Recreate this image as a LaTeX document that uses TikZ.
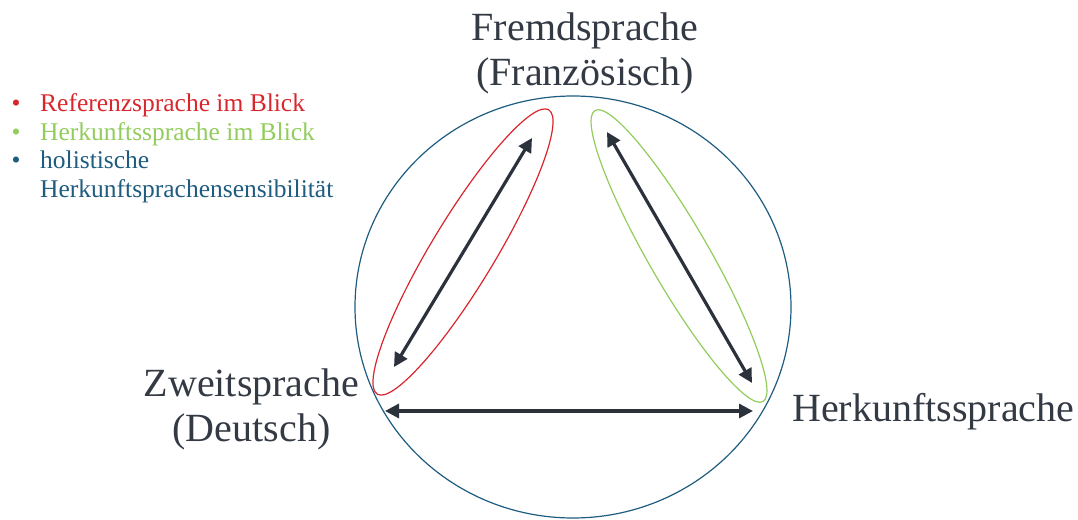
\documentclass[tikz,border=0pt]{standalone}
\usepackage{fontspec}
\setmainfont{Liberation Serif}
\usetikzlibrary{arrows.meta,positioning}
\definecolor{ringblue}{RGB}{30,92,128}
\definecolor{refred}{RGB}{216,38,44}
\definecolor{herkgreen}{RGB}{146,204,92}
\definecolor{arrowgrey}{RGB}{44,50,60}
\definecolor{labelgrey}{RGB}{52,58,68}
\begin{document}
\begin{tikzpicture}[
    x = 1pt, y = 1pt,
    lang/.style = {inner sep = 0pt, text = labelgrey, align = center, font = \fontsize{40}{45}\selectfont},
    legend/.style = {inner sep = 0pt, anchor = base west, font = \fontsize{25.5}{28.5}\selectfont},
    dbl/.style = {{Triangle[length = 14pt, width = 14pt]}-{Triangle[length = 14pt, width = 14pt]}, line width = 3.2pt, draw = arrowgrey}
]
\useasboundingbox (0,0) rectangle (1078,519);
% legend
\node[legend, text = refred] (lref) at (40,407) {Referenzsprache im Blick};
\node[legend, text = herkgreen] (lherk) at (40,378.5) {Herkunftssprache im Blick};
\node[legend, text = ringblue] (lholi) at (40,350) {holistische};
\node[legend, text = ringblue] (lholi2) at (40,321.5) {Herkunftsprachensensibilität};
\node[legend, anchor = base, text = refred] (bref) at (16,407) {\textbullet};
\node[legend, anchor = base, text = herkgreen] (bherk) at (16,378.5) {\textbullet};
\node[legend, anchor = base, text = ringblue] (bholi) at (16,350) {\textbullet};
% languages
\node[lang] (fremd) at (585,466) {Fremdsprache\\(Französisch)};
\node[lang] (zweit) at (251.5,110) {Zweitsprache\\(Deutsch)};
\node[lang, anchor = base west] (herk) at (792,97) {Herkunftssprache};
% circle and ellipses
\draw[ringblue, line width = 1.2pt] (573,212) ellipse [x radius = 218, y radius = 211];
\draw[refred, line width = 1.2pt, rotate around = {58.9:(463,267)}] (463,267) ellipse [x radius = 166, y radius = 32];
\draw[herkgreen, line width = 1.2pt, rotate around = {-60:(679,263)}] (679,263) ellipse [x radius = 168, y radius = 30];
% arrows
\coordinate (zl) at (394,152);
\coordinate (fl) at (532,381);
\coordinate (fr) at (607,387);
\coordinate (hr) at (752,136);
\coordinate (zb) at (385,108);
\coordinate (hb) at (753,108);
\draw[dbl] (zl) -- (fl);
\draw[dbl] (fr) -- (hr);
\draw[dbl] (zb) -- (hb);
\end{tikzpicture}
\end{document}
